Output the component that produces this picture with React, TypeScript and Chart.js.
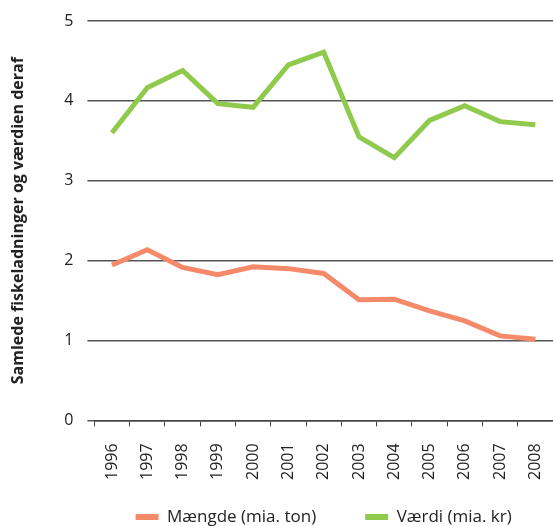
import React, { useEffect, useRef } from "react";
import { Chart, registerables } from "chart.js";

Chart.register(...registerables);

const years = ["1996", "1997", "1998", "1999", "2000", "2001", "2002", "2003", "2004", "2005", "2006", "2007", "2008"];
const maengde = [1.945, 2.137, 1.915, 1.823, 1.923, 1.9, 1.84, 1.51, 1.518, 1.37, 1.246, 1.058, 1.016];
const vaerdi = [3.6, 4.165, 4.38, 3.965, 3.92, 4.45, 4.61, 3.55, 3.29, 3.755, 3.94, 3.74, 3.7];
const yTicks = [0, 1, 2, 3, 4, 5];

const FONT = "'Open Sans', 'DejaVu Sans', sans-serif";
const LEGEND_FONT = 17;
const LEGEND_GAP = 49;

const legendShift = {
  id: "legendShift",
  afterLayout(chart: any) {
    const lg = chart.legend;
    if (!lg) return;
    const ca = chart.chartArea;
    const cx = (ca.left + ca.right) / 2;
    lg.left = cx - 260;
    lg.right = cx + 260;
    lg.width = 520;
    lg.top = chart.height - 9 - LEGEND_GAP - LEGEND_FONT / 2;
    lg.height = LEGEND_GAP + LEGEND_FONT + 10;
    lg.bottom = lg.top + lg.height;
  },
};

export default function App() {
  const ref = useRef<HTMLCanvasElement | null>(null);
  useEffect(() => {
    document.body.style.margin = "0";
    const ctx = ref.current!;
    const chart = new Chart(ctx, {
      type: "line",
      data: {
        labels: years,
        datasets: [
          {
            label: "Mængde (mia. ton)",
            data: maengde,
            borderColor: "#f58a6a",
            backgroundColor: "#f58a6a",
            borderWidth: 5,
            pointRadius: 0,
            tension: 0,
          },
          {
            label: "Værdi (mia. kr)",
            data: vaerdi,
            borderColor: "#8fca4c",
            backgroundColor: "#8fca4c",
            borderWidth: 5,
            pointRadius: 0,
            tension: 0,
          },
        ],
      },
      plugins: [legendShift],
      options: {
        animation: false,
        responsive: false,
        maintainAspectRatio: false,
        layout: { padding: { top: 21, right: 0, left: 9, bottom: 0 } },
        plugins: {
          tooltip: { enabled: false },
          legend: {
            position: "bottom",
            maxHeight: 29,
            labels: {
              font: { family: FONT, size: LEGEND_FONT },
              color: "#222",
              boxWidth: 23,
              boxHeight: 6,
              padding: LEGEND_GAP,
              generateLabels: (c: any) =>
                c.data.datasets.map((d: any, i: number) => ({
                  text: d.label,
                  fillStyle: d.borderColor,
                  strokeStyle: d.borderColor,
                  lineWidth: 0,
                  datasetIndex: i,
                  hidden: false,
                  fontColor: "#222",
                })),
            },
          },
        },
        scales: {
          x: {
            offset: true,
            afterFit: (axis: any) => {
              axis.paddingRight = 0;
              axis.paddingLeft = 0;
            },
            grid: { display: true, drawOnChartArea: false, drawTicks: true, tickLength: 6, offset: true, color: "#444" },
            border: { display: true, color: "#444", width: 1.5 },
            ticks: {
              font: { family: FONT, size: 16 },
              color: "#222",
              maxRotation: 90,
              minRotation: 90,
              padding: 17,
              autoSkip: false,
            },
          },
          y: {
            min: 0,
            max: 5,
            afterBuildTicks: (axis: any) => {
              axis.ticks = yTicks.map((v) => ({ value: v }));
            },
            afterFit: (axis: any) => {
              axis.paddingTop = 0;
              axis.paddingBottom = 0;
            },
            grid: { color: "#555", lineWidth: 1.5, tickLength: 7, drawTicks: true },
            border: { display: false },
            ticks: {
              font: { family: FONT, size: 16 },
              color: "#222",
              padding: 14,
            },
            title: {
              display: true,
              text: "Samlede fiskeladninger og værdien deraf",
              font: { family: FONT, size: 16, weight: "bold" },
              color: "#222",
              padding: { top: 0, bottom: 22 },
            },
          },
        },
      },
    });
    return () => chart.destroy();
  }, []);
  return (
    <div style={{ position: "absolute", left: 0, top: 0, width: 553, height: 526 }}>
      <canvas ref={ref} width={553} height={526} style={{ display: "block", width: 553, height: 526 }} />
    </div>
  );
}
